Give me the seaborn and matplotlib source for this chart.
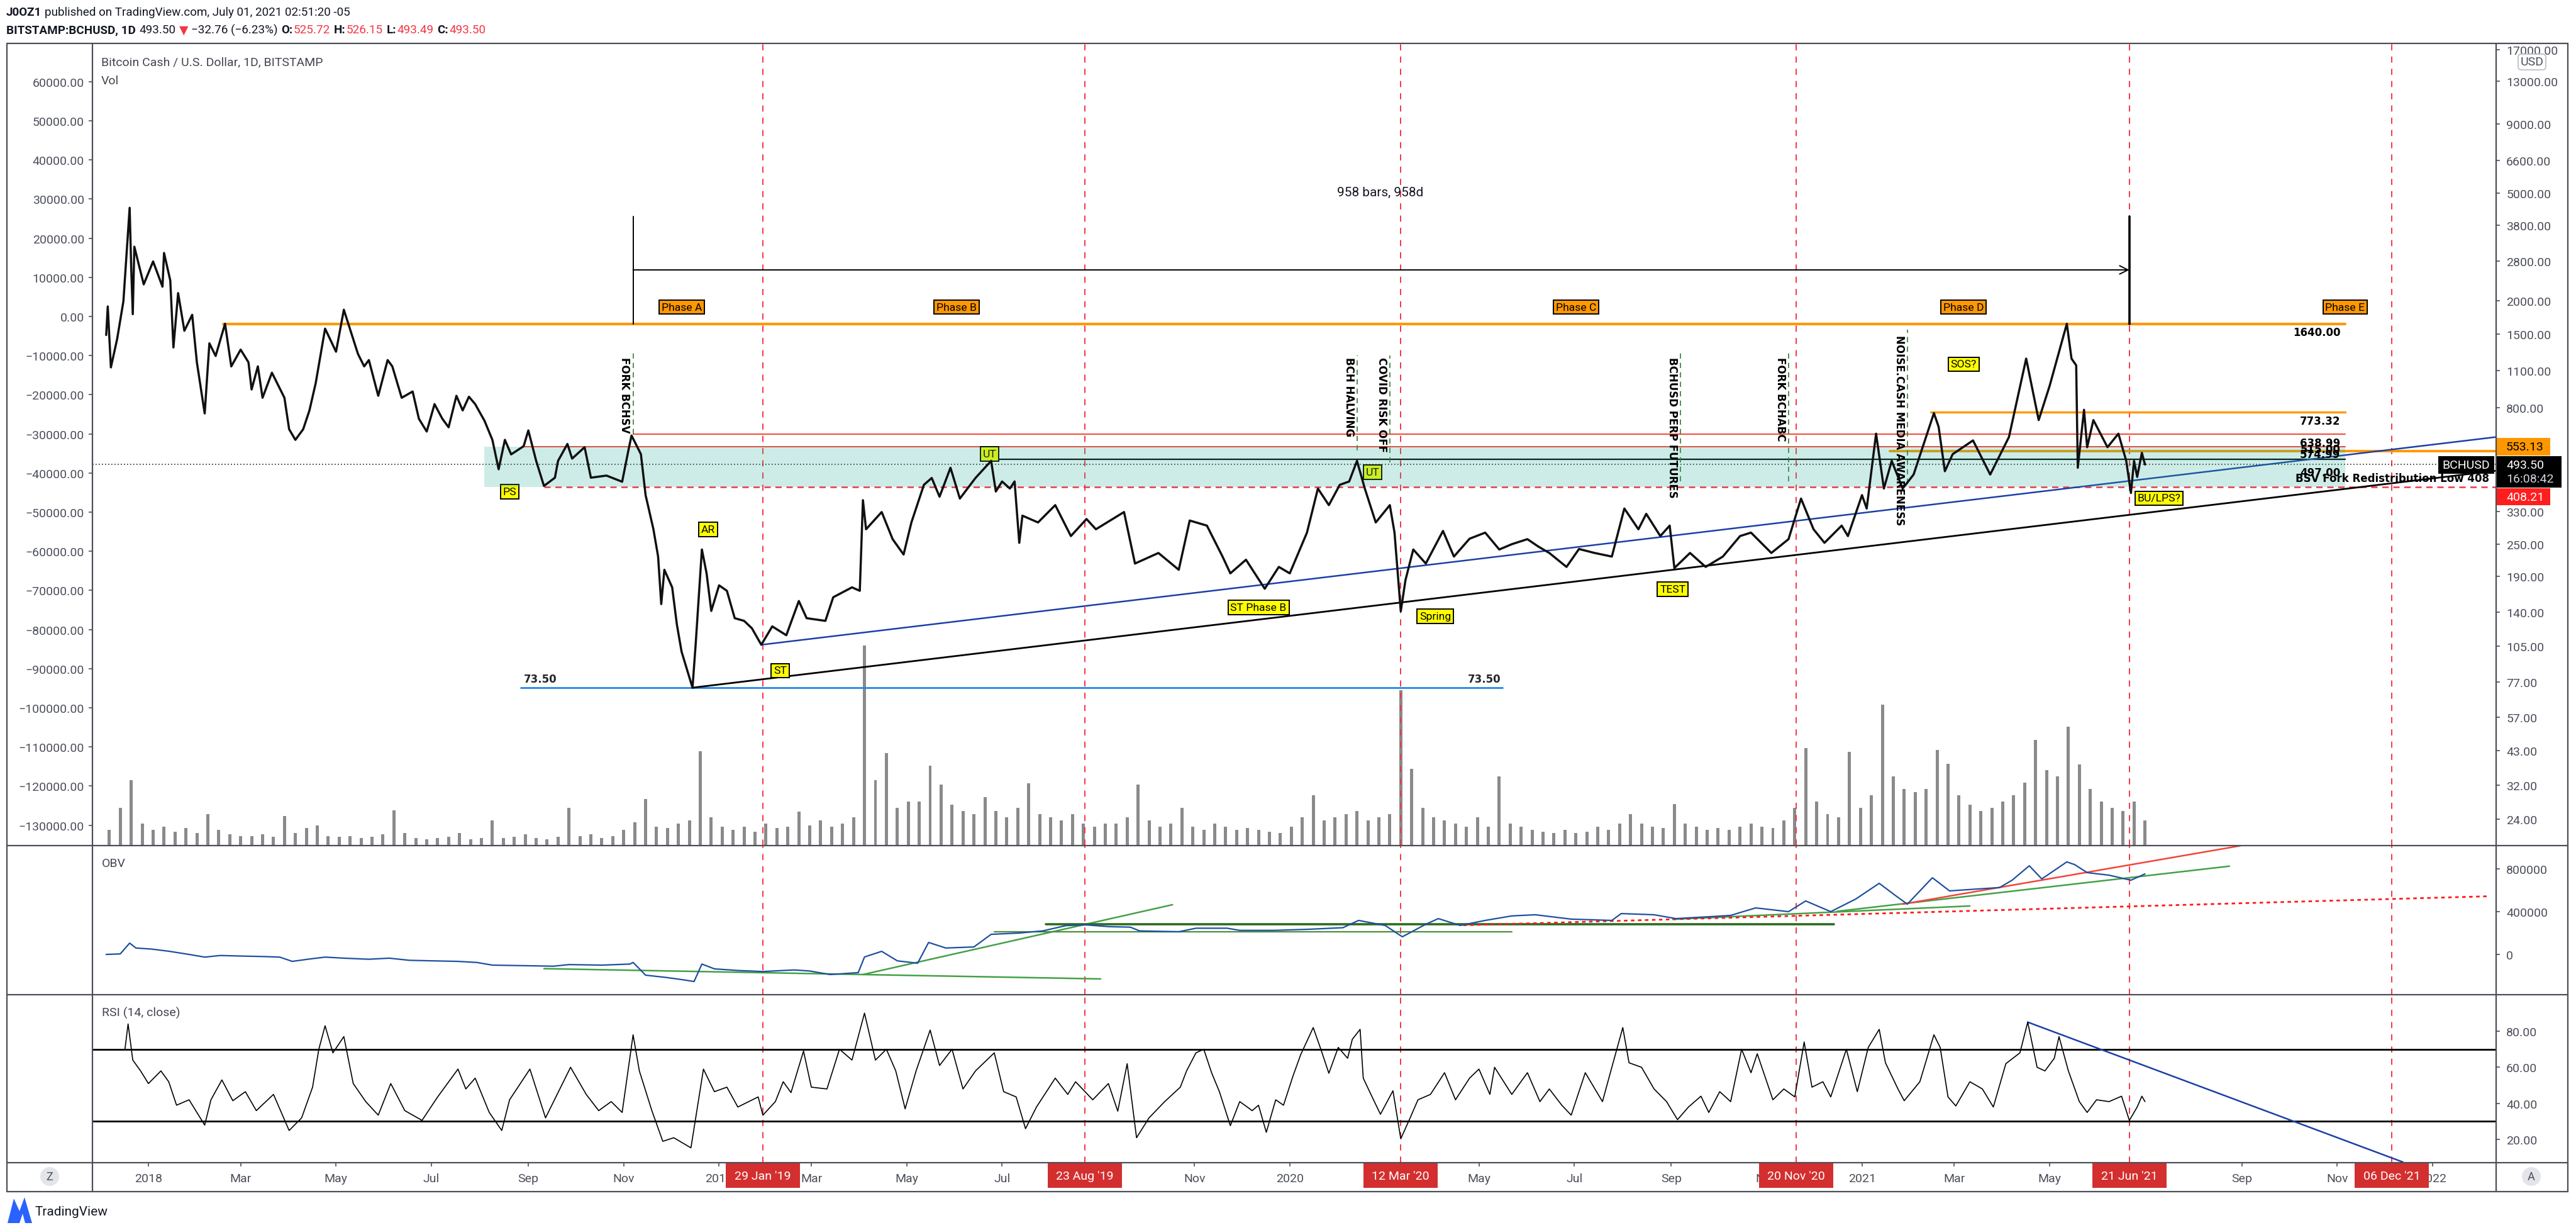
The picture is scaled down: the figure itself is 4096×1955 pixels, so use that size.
import numpy as np
import pandas as pd
import matplotlib
matplotlib.use("Agg")
import matplotlib.pyplot as plt
import matplotlib.dates as mdates
import matplotlib.transforms as mtrans
from matplotlib.ticker import FixedLocator, NullLocator, FuncFormatter
from matplotlib.patches import Rectangle, FancyBboxPatch, Circle, Polygon
import seaborn as sns

# ------------------------------------------------------------------ data
price_dates = [
 "2017-12-05","2017-12-06","2017-12-08","2017-12-12","2017-12-16","2017-12-20","2017-12-21","2017-12-22","2017-12-23","2017-12-29",
 "2018-01-04","2018-01-10","2018-01-11","2018-01-15","2018-01-17","2018-01-20","2018-01-24","2018-01-29","2018-02-01","2018-02-06",
 "2018-02-09","2018-02-13","2018-02-19","2018-02-23","2018-03-01","2018-03-06","2018-03-08","2018-03-12","2018-03-15","2018-03-21",
 "2018-03-25","2018-03-29","2018-04-01","2018-04-05","2018-04-10","2018-04-14","2018-04-18","2018-04-24","2018-05-01","2018-05-06",
 "2018-05-12","2018-05-15","2018-05-19","2018-05-22","2018-05-28","2018-06-03","2018-06-06","2018-06-12","2018-06-19","2018-06-23",
 "2018-06-28","2018-07-03","2018-07-08","2018-07-12","2018-07-17","2018-07-21","2018-07-25","2018-07-29","2018-08-04","2018-08-09",
 "2018-08-13","2018-08-17","2018-08-21","2018-08-29","2018-09-01","2018-09-06","2018-09-11","2018-09-18","2018-09-20","2018-09-26",
 "2018-09-29","2018-10-07","2018-10-11","2018-10-21","2018-10-31","2018-11-04","2018-11-06","2018-11-12","2018-11-15","2018-11-20",
 "2018-11-23","2018-11-25","2018-11-27","2018-12-02","2018-12-05","2018-12-08","2018-12-15","2018-12-17","2018-12-21","2018-12-24",
 "2018-12-27","2019-01-01","2019-01-06","2019-01-11","2019-01-17","2019-01-22","2019-01-28","2019-02-04","2019-02-13","2019-02-21",
 "2019-02-26","2019-03-10","2019-03-15","2019-03-27","2019-04-01","2019-04-03","2019-04-05","2019-04-15","2019-04-22","2019-04-29",
 "2019-05-04","2019-05-12","2019-05-17","2019-05-22","2019-05-29","2019-06-04","2019-06-14","2019-06-24","2019-06-27","2019-07-01",
 "2019-07-06","2019-07-09","2019-07-12","2019-07-14","2019-07-24","2019-08-04","2019-08-14","2019-08-24","2019-08-30","2019-09-17",
 "2019-09-24","2019-10-09","2019-10-22","2019-10-29","2019-11-09","2019-11-19","2019-11-24","2019-12-04","2019-12-16","2019-12-25",
 "2020-01-01","2020-01-12","2020-01-19","2020-01-26","2020-02-02","2020-02-08","2020-02-13","2020-02-18","2020-02-25","2020-03-05",
 "2020-03-08","2020-03-12","2020-03-15","2020-03-20","2020-03-28","2020-04-08","2020-04-15","2020-04-25","2020-05-05","2020-05-14",
 "2020-05-22","2020-06-01","2020-06-08","2020-06-15","2020-06-26","2020-07-04","2020-07-14","2020-07-25","2020-08-02","2020-08-11",
 "2020-08-16","2020-08-25","2020-08-31","2020-09-03","2020-09-13","2020-09-23","2020-10-04","2020-10-15","2020-10-22","2020-11-04",
 "2020-11-15","2020-11-23","2020-12-01","2020-12-08","2020-12-19","2020-12-23","2021-01-01","2021-01-04","2021-01-10","2021-01-15",
 "2021-01-20","2021-01-27","2021-02-03","2021-02-16","2021-02-19","2021-02-23","2021-02-28","2021-03-13","2021-03-24","2021-04-05",
 "2021-04-16","2021-04-24","2021-05-01","2021-05-12","2021-05-15","2021-05-18","2021-05-19","2021-05-23","2021-05-25","2021-05-29",
 "2021-06-07","2021-06-14","2021-06-19","2021-06-22","2021-06-24","2021-06-26","2021-06-29","2021-07-01"]
price_vals = [
 1490,1900,1130,1440,1985,4410,2640,1780,3165,2295,
 2790,2250,3000,2370,1340,2130,1545,1770,1180,763,
 1388,1246,1640,1140,1315,1180,936,1140,872,1080,
 970,872,667,609,667,783,988,1573,1292,1848,
 1439,1269,1140,1203,887,1203,1140,872,920,729,
 654,826,729,678,887,783,880,826,716,609,
 474,609,538,577,660,509,411,441,509,588,
 519,572,441,449,426,557,632,539,380,284,
 225,150,201,173,126,100,73.5,106,239,195,
 141.5,176,168,133,130,122,106,124,115,154,
 133,130,159,173,168,364,284,329,261,229,
 301,415,440,375,480,369,440,509,392,427,
 402,427,253,319,301,349,268,310,284,329,
 212,232,201,306,293,225,195,219,171,206,
 195,276,402,349,415,427,509,402,301,349,
 276,141,184,239,212,280,225,262,276,239,
 250,261,245,232,206,240,232,225,339,284,
 324,268,293,204,232,206,225,268,276,232,
 261,369,284,253,293,268,380,339,642,402,
 509,402,453,765,681,466,539,606,453,624,
 1218,721,965,1640,1218,1150,480,787,572,721,
 572,642,509,387,509,444,545,493.5]

# weekly volume (first week centred on 2017-12-07)
vol_first_week = "2017-12-07"
vol_vals = [
 25, 60, 104, 35, 25,                      # Dec 2017
 30, 22, 28, 20,                           # Jan 2018
 50, 25, 18, 15,                           # Feb
 15, 18, 14, 47, 20, 28, 32, 15, 14,       # Mar-Apr
 15, 12, 14, 18, 56, 20, 12, 10, 12, 14, 20, 10, 12,   # May-Jul
 40, 12, 14, 18, 12, 10, 14, 60, 15, 18, 12, 15, 25,   # Aug-Oct
 37, 74, 30, 28, 35,                       # Nov 2018
 40, 150, 45, 30,                          # Dec 2018
 25, 30, 22, 35, 28, 30, 54, 32, 40, 30, 35, 45,       # Jan-Mar 2019
 318, 104, 147, 60, 70,                    # Apr 2019
 70, 127, 97, 65, 55,                      # May
 50, 77, 55, 45, 60, 99, 50, 45, 40, 50, 35, 30, 35,   # Jun-Aug
 35, 45, 97, 40, 30, 35, 60, 30, 25, 35, 30, 25, 28,   # Sep-Nov
 25, 22, 20, 30, 45, 80, 40, 45, 50, 55, 40, 45, 50,   # Dec 2019-Feb 2020
 247, 122, 60, 45,                         # Mar 2020
 40, 35, 30, 45, 30, 110, 35, 30, 25, 22, 20, 25, 20, 22, 30, 25, 35,  # Apr-Jul
 50, 35, 30, 28, 66, 35, 30, 25, 28, 25, 30, 35, 30, 28,              # Aug-Oct
 40, 60, 155, 70, 50, 45, 149, 60,         # Nov-Dec 2020
 80, 224, 110, 90, 85,                     # Jan 2021
 90, 152, 130, 80,                         # Feb
 65, 55, 60, 70,                           # Mar
 80, 100, 168, 120, 110,                   # Apr
 189, 129, 90, 70,                         # May
 60, 55, 70, 40]                           # Jun

obv_dates = [
 "2017-12-05","2017-12-14","2017-12-20","2017-12-24","2018-01-03","2018-01-14","2018-01-27","2018-02-06","2018-02-16","2018-03-01",
 "2018-03-16","2018-03-26","2018-04-03","2018-04-13","2018-04-24","2018-05-06","2018-05-22","2018-06-04","2018-06-17","2018-07-02",
 "2018-07-18","2018-07-30","2018-08-09","2018-09-02","2018-09-17","2018-09-27","2018-10-18","2018-11-05","2018-11-07","2018-11-15",
 "2018-11-28","2018-12-08","2018-12-16","2018-12-21","2018-12-29","2019-01-13","2019-01-29","2019-02-18","2019-02-28","2019-03-13",
 "2019-03-31","2019-04-04","2019-04-15","2019-04-25","2019-05-08","2019-05-15","2019-05-26","2019-06-13","2019-06-24","2019-07-12",
 "2019-07-27","2019-08-11","2019-08-24","2019-09-07","2019-09-21","2019-09-27","2019-10-22","2019-11-02","2019-11-22","2019-11-30",
 "2019-12-22","2020-01-13","2020-02-04","2020-02-14","2020-03-02","2020-03-13","2020-03-28","2020-04-05","2020-04-19","2020-05-05",
 "2020-05-22","2020-06-06","2020-06-29","2020-07-25","2020-07-31","2020-08-21","2020-09-04","2020-09-28","2020-10-09","2020-10-25",
 "2020-11-15","2020-11-26","2020-12-12","2020-12-28","2021-01-12","2021-01-22","2021-01-30","2021-02-15","2021-02-26","2021-03-19",
 "2021-03-30","2021-04-07","2021-04-18","2021-04-26","2021-05-12","2021-05-17","2021-05-25","2021-06-08","2021-06-22","2021-07-01"]
obv_vals_k = [
 0, 5, 106, 60, 50, 30, 0, -25, -10, -15,
 -20, -25, -65, -45, -25, -35, -45, -35, -55, -60,
 -65, -75, -100, -106, -110, -95, -100, -90, -75, -194,
 -215, -235, -253, -90, -135, -150, -160, -145, -155, -188,
 -170, -24, 29, -60, -82, 112, 60, 70, 188, 200,
 220, 270, 276, 260, 255, 220, 212, 245, 245, 225,
 225, 235, 250, 318, 271, 165, 282, 335, 271, 318,
 360, 371, 330, 318, 382, 371, 335, 355, 365, 435,
 400, 500, 400, 518, 665, 555, 470, 717, 594, 615,
 625, 694, 829, 706, 865, 840, 765, 741, 694, 753]

rsi_dates = [
 "2017-12-17","2017-12-19","2017-12-22","2017-12-27","2018-01-01","2018-01-09","2018-01-14","2018-01-19","2018-01-27","2018-02-06",
 "2018-02-10","2018-02-17","2018-02-24","2018-03-04","2018-03-11","2018-03-22","2018-04-01","2018-04-09","2018-04-16","2018-04-20",
 "2018-04-24","2018-04-29","2018-05-06","2018-05-12","2018-05-20","2018-05-28","2018-06-05","2018-06-14","2018-06-25","2018-07-05",
 "2018-07-18","2018-07-23","2018-07-29","2018-08-07","2018-08-15","2018-08-20","2018-09-02","2018-09-12","2018-09-28","2018-10-08",
 "2018-10-16","2018-10-24","2018-10-31","2018-11-07","2018-11-11","2018-11-19","2018-11-26","2018-12-03","2018-12-14","2018-12-22",
 "2018-12-29","2019-01-06","2019-01-13","2019-01-26","2019-01-29","2019-02-06","2019-02-11","2019-02-16","2019-02-24","2019-03-01",
 "2019-03-11","2019-03-19","2019-03-27","2019-04-04","2019-04-11","2019-04-18","2019-04-24","2019-04-30","2019-05-07","2019-05-16",
 "2019-05-22","2019-05-30","2019-06-06","2019-06-14","2019-06-26","2019-07-02","2019-07-10","2019-07-16","2019-07-23","2019-08-04",
 "2019-08-12","2019-08-17","2019-08-28","2019-09-07","2019-09-13","2019-09-19","2019-09-25","2019-10-03","2019-10-13","2019-10-23",
 "2019-10-27","2019-11-02","2019-11-07","2019-11-12","2019-11-17","2019-11-24","2019-11-30","2019-12-08","2019-12-12","2019-12-17",
 "2019-12-23","2019-12-28","2020-01-03","2020-01-08","2020-01-11","2020-01-16","2020-01-21","2020-01-26","2020-02-01","2020-02-07",
 "2020-02-10","2020-02-15","2020-02-17","2020-02-23","2020-02-28","2020-03-07","2020-03-12","2020-03-18","2020-03-23","2020-03-31",
 "2020-04-09","2020-04-16","2020-04-25","2020-05-01","2020-05-08","2020-05-11","2020-05-22","2020-06-01","2020-06-09","2020-06-15",
 "2020-06-23","2020-06-29","2020-07-08","2020-07-19","2020-07-25","2020-08-01","2020-08-05","2020-08-13","2020-08-21","2020-08-29",
 "2020-09-05","2020-09-12","2020-09-20","2020-09-25","2020-10-02","2020-10-09","2020-10-16","2020-10-22","2020-10-26","2020-11-05",
 "2020-11-12","2020-11-19","2020-11-25","2020-11-30","2020-12-07","2020-12-12","2020-12-22","2020-12-29","2021-01-05","2021-01-12",
 "2021-01-16","2021-01-24","2021-01-28","2021-02-07","2021-02-16","2021-02-20","2021-02-25","2021-03-02","2021-03-11","2021-03-19",
 "2021-03-26","2021-04-03","2021-04-12","2021-04-17","2021-04-23","2021-04-28","2021-05-04","2021-05-07","2021-05-13","2021-05-20",
 "2021-05-25","2021-05-31","2021-06-08","2021-06-16","2021-06-21","2021-06-26","2021-06-29","2021-07-01"]
rsi_vals = [
 70, 84, 64, 58, 51, 58, 52, 39, 42, 28,
 42, 53, 41.5, 46.5, 36, 45, 25, 32, 49, 70,
 83, 68, 77, 51, 41, 33.5, 51, 36, 30.6, 43.6,
 59, 48, 54, 35, 25, 42, 59, 32, 60, 45,
 36, 41, 35, 78, 58, 36, 19, 21, 15.4, 59,
 46.5, 49, 38, 43.6, 33.5, 41, 52, 46, 69, 49,
 48, 70, 64, 90, 64, 70, 58, 37, 58, 80.6,
 61, 70, 48, 58, 68, 46.5, 43.6, 26, 38, 54,
 45, 52, 42, 51, 35.7, 62, 21, 32, 41, 49,
 58, 68, 70, 57, 46.5, 27.7, 41, 36, 39, 24,
 42, 39, 55, 67, 72.6, 82, 69.7, 56.7, 71, 65,
 75.5, 81, 54, 43, 34, 47, 20.4, 32, 42, 45,
 57, 42, 54, 59, 45, 60, 45, 57, 41, 48,
 39, 33.5, 57, 41, 60, 82, 62.5, 60, 48, 41,
 31, 38, 44, 35, 46.5, 41, 70, 57, 67.5, 42,
 48, 43.6, 74, 49, 52, 43.6, 70, 46.5, 71, 81,
 62.5, 48, 41.5, 52, 78, 71, 43.6, 38.6, 52, 48,
 38, 62, 68, 85, 60, 58, 65, 77, 58, 41,
 35, 42, 41, 44, 30.6, 38, 44, 41]

# axis tick values
right_ticks = [17000, 13000, 9000, 6600, 5000, 3800, 2800, 2000, 1500, 1100, 800, 600,
               330, 250, 190, 140, 105, 77, 57, 43, 32, 24]
left_ticks = list(range(-130000, 60001, 10000))
obv_ticks = [0, 400000, 800000]
rsi_ticks = [20, 40, 60, 80]
# time-axis labels (those hidden under the date tags are left out)
time_ticks = ["2018-01-01", "2018-03-01", "2018-05-01", "2018-07-01", "2018-09-01", "2018-11-01",
              "2019-01-01", "2019-03-01", "2019-05-01", "2019-07-01", "2019-11-01",
              "2020-01-01", "2020-05-01", "2020-07-01", "2020-09-01", "2020-11-01",
              "2021-01-01", "2021-03-01", "2021-05-01", "2021-09-01", "2021-11-01", "2022-01-01"]
time_labels = ["2018", "Mar", "May", "Jul", "Sep", "Nov",
               "2019", "Mar", "May", "Jul", "Nov",
               "2020", "May", "Jul", "Sep", "Nov",
               "2021", "Mar", "May", "Sep", "Nov", "2022"]

# events (red dashed verticals with date tags)
event_dates = ["2019-01-29", "2019-08-23", "2020-03-12", "2020-11-20", "2021-06-21", "2021-12-06"]
event_labels = ["29 Jan '19", "23 Aug '19", "12 Mar '20", "20 Nov '20", "21 Jun '21", "06 Dec '21"]

# green annotated verticals: name, date, low price, high price, text-top price
note_names = ["FORK BCHSV", "BCH HALVING", "COVID RISK OFF", "BCHUSD PERP FUTURES", "FORK BCHABC",
              "NOISE.CASH MEDIA AWARENESS"]
note_dates = ["2018-11-07", "2020-02-13", "2020-03-05", "2020-09-07", "2020-11-15", "2021-01-30"]
note_low = [640, 555, 503, 427, 427, 418]
note_high = [1306, 1254, 1254, 1304, 1304, 1558]
note_text_top = [1240, 1240, 1240, 1240, 1240, 1492]

# Wyckoff labels
wy_text = ["PS", "AR", "UT", "ST", "ST Phase B", "UT", "Spring", "TEST", "SOS?", "BU/LPS?"]
wy_dates = ["2018-08-20", "2018-12-25", "2019-06-23", "2019-02-09", "2019-12-12", "2020-02-23",
            "2020-04-03", "2020-09-02", "2021-03-07", "2021-07-10"]
wy_price = [392, 284, 541, 85, 146, 463, 135, 170, 1161, 370]

phase_text = ["Phase A", "Phase B", "Phase C", "Phase D", "Phase E"]
phase_dates = ["2018-12-08", "2019-06-02", "2020-07-02", "2021-03-07", "2021-11-06"]
phase_price = 1890

# x range of the chart
x_start, x_end = "2017-11-26 05:00", "2022-02-10 14:00"
level_end = "2021-11-06"

# ------------------------------------------------------------------ style
sns.set_theme(style="white")
plt.rcParams["font.family"] = ["Roboto", "DejaVu Sans"]
AX_COL = "#4c4f5a"
FRAME = "#4b4e58"
RED = "#f23645"
ORANGE = "#ff9800"

W, H, DPI = 4096, 1956, 200
fig = plt.figure(figsize=(W / DPI, H / DPI), dpi=DPI)
fig.patch.set_facecolor("white")

L, R = 147, 3969
T_MAIN, B_MAIN, B_OBV, B_RSI = 70, 1345, 1582, 1849


def rect(top, bottom):
    return [L / W, 1 - bottom / H, (R - L) / W, (bottom - top) / H]


ax = fig.add_axes(rect(T_MAIN, B_MAIN))
ax_obv = fig.add_axes(rect(B_MAIN, B_OBV), sharex=ax)
ax_rsi = fig.add_axes(rect(B_OBV, B_RSI), sharex=ax)
ax_vol = ax.twinx()
ax_left = ax.twinx()
for a in (ax, ax_vol, ax_left, ax_obv, ax_rsi):
    a.patch.set_visible(False)
    for s in a.spines.values():
        s.set_visible(False)
    a.grid(False)
ax_vol.set_zorder(1)
ax_left.set_zorder(2)
ax.set_zorder(3)


def D(s):
    return mdates.date2num(pd.Timestamp(s))


# ------------------------------------------------------------------ main pane
ax.set_yscale("log")
sns.lineplot(x=pd.to_datetime(price_dates), y=price_vals, ax=ax, color="#101010",
             linewidth=1.25, estimator=None, sort=False, zorder=6)

vdates = pd.date_range(vol_first_week, periods=len(vol_vals), freq="7D")
ax_vol.bar(vdates, vol_vals, width=2.0, color="#8a8a8a", linewidth=0, zorder=1)
ax_vol.set_ylim(0, 1275)
ax_vol.axis("off")

# horizontal levels
dash = (0, (4, 3))
ax.plot([D("2018-02-18"), D(level_end)], [1640, 1640], color=ORANGE, lw=1.5, zorder=2)
ax.plot([D("2021-02-14"), D(level_end)], [773.32, 773.32], color=ORANGE, lw=1.2, zorder=2)
ax.plot([D("2018-11-07"), D(level_end)], [638.99, 638.99], color="#f44336", lw=0.7, zorder=2)
ax.plot([D("2018-08-28"), D(level_end)], [574.99, 574.99], color="#f44336", lw=0.7, zorder=2)
ax.plot([D("2021-01-19"), D(x_end)], [553.13, 553.13], color=ORANGE, lw=1.4, zorder=2)
ax.plot([D("2019-06-27"), D(level_end)], [515.0, 515.0], color="black", lw=0.8, zorder=2)
ax.plot([D("2018-09-11"), D(x_end)], [408.21, 408.21], color=RED, lw=0.9, ls=dash, zorder=2)
ax.plot([D("2018-08-27"), D("2020-05-16")], [73.5, 73.5], color="#1e88e5", lw=1.0, zorder=2)
ax.axhline(493.5, color="#222222", lw=0.6, ls=(0, (1, 2)), zorder=2)

# teal range box
ax.add_patch(Rectangle((D("2018-08-04"), 408.21), D(level_end) - D("2018-08-04"), 574.99 - 408.21,
                       facecolor="#22ab94", alpha=0.22, edgecolor="none", zorder=5))

# trend lines
ax.plot([D("2018-12-15"), D(x_end)], [73.5, 468], color="black", lw=1.0, zorder=3)
ax.plot([D("2019-01-28"), D(x_end)], [106, 624], color="#1b3fa6", lw=0.9, zorder=3)

# date range measurement
ax.plot([D("2018-11-07"), D("2018-11-07")], [1640, 4095], color="black", lw=0.7, zorder=3)
ax.plot([D("2021-06-21"), D("2021-06-21")], [1640, 4095], color="black", lw=1.3, zorder=3)
ax.annotate("", xy=(D("2021-06-21"), 2596), xytext=(D("2018-11-07"), 2596),
            arrowprops=dict(arrowstyle="->", color="black", lw=0.7, shrinkA=0, shrinkB=0), zorder=3)
ax.text(D("2020-02-28"), 5047, "958 bars, 958d", ha="center", va="center", fontsize=7.5,
        color="#131722", zorder=7)

# event verticals
for a in (ax, ax_obv, ax_rsi):
    for d in event_dates:
        a.axvline(D(d), color=RED, lw=0.7, ls=(0, (5, 5)), zorder=1.5)

# green annotated verticals
off = mtrans.offset_copy(ax.transData, fig=fig, x=-1.5, y=0, units="points")
for n, d, lo, hi, tt in zip(note_names, note_dates, note_low, note_high, note_text_top):
    ax.plot([D(d), D(d)], [lo, hi], color="#2e7d32", lw=0.6, ls=(0, (5, 4)), zorder=3)
    ax.text(D(d), tt, n, rotation=270, ha="right", va="top", fontsize=6, fontweight="bold",
            family="DejaVu Sans", color="black", transform=off, zorder=7)

# wyckoff labels
for t, d, p in zip(wy_text, wy_dates, wy_price):
    ax.text(D(d), p, t, ha="center", va="center", fontsize=6.3, color="black", zorder=4,
            bbox=dict(boxstyle="square,pad=0.22", fc="#ffff00", ec="black", lw=0.7))
for t, d in zip(phase_text, phase_dates):
    ax.text(D(d), phase_price, t, ha="center", va="center", fontsize=6.3, color="black", zorder=7,
            bbox=dict(boxstyle="square,pad=0.22", fc=ORANGE, ec="black", lw=0.7))

# level text labels (stacked as in the original, they partly overlap there too)
lvl_kw = dict(ha="right", va="center", fontsize=6, fontweight="bold", family="DejaVu Sans",
              color="black", zorder=7)
ax.text(D("2021-11-03"), 1527, "1640.00", **lvl_kw)
ax.text(D("2021-11-03"), 716, "773.32", **lvl_kw)
ax.text(D("2021-11-03"), 593, "638.99", **lvl_kw)
ax.text(D("2021-11-03"), 562, "515.00", **lvl_kw)
ax.text(D("2021-11-03"), 538.6, "574.99", **lvl_kw)
ax.text(D("2021-11-03"), 461, "497.00", **lvl_kw)
ax.text(D("2022-02-06"), 439, "BSV Fork Redistribution Low 408", **lvl_kw)
ax.text(D("2018-08-29"), 79.3, "73.50", ha="left", va="center", fontsize=6, fontweight="bold",
        family="DejaVu Sans", zorder=7)
ax.text(D("2020-05-15"), 79.3, "73.50", ha="right", va="center", fontsize=6, fontweight="bold",
        family="DejaVu Sans", zorder=7)

ax.set_xlim(D(x_start), D(x_end))
ax.set_ylim(19.11, 17930)
ax.set_xlabel("")
ax.set_ylabel("")
ax.yaxis.tick_right()
ax.yaxis.set_major_locator(FixedLocator(right_ticks))
ax.yaxis.set_minor_locator(NullLocator())
ax.yaxis.set_major_formatter(FuncFormatter(lambda v, p: f"{v:.2f}"))
ax.tick_params(axis="y", which="major", direction="out", length=2.2, width=0.6, pad=3.6,
               labelsize=7, colors=AX_COL)
ax.tick_params(axis="y", which="minor", length=0)
ax.tick_params(axis="x", which="both", bottom=False, labelbottom=False)

ax_left.yaxis.tick_left()
ax_left.set_ylim(-135209, 69775)
ax_left.yaxis.set_major_locator(FixedLocator(left_ticks))
ax_left.yaxis.set_major_formatter(FuncFormatter(lambda v, p: f"{v:.2f}".replace("-", "\u2212")))
ax_left.tick_params(axis="y", direction="out", length=2.2, width=0.6, pad=2.5, labelsize=7,
                    colors=AX_COL)

# ------------------------------------------------------------------ OBV pane
sns.lineplot(x=pd.to_datetime(obv_dates), y=np.array(obv_vals_k) * 1000, ax=ax_obv,
             color="#1d4f9e", linewidth=0.8, estimator=None, sort=False, zorder=5)
obv_lines = [
    (("2018-09-11", -133000), ("2019-09-02", -229000), "#43a047", 0.9, "-"),
    (("2019-04-03", -188000), ("2019-10-18", 465000), "#43a047", 0.9, "-"),
    (("2019-07-29", 282000), ("2020-12-14", 282000), "#2e6b1f", 1.3, "-"),
    (("2019-06-26", 212000), ("2020-05-22", 212000), "#4a8f3a", 0.8, "-"),
    (("2020-09-02", 329000), ("2021-03-11", 453000), "#43a047", 0.9, "-"),
    (("2020-12-16", 403000), ("2021-08-24", 825000), "#43a047", 0.9, "-"),
    (("2021-01-27", 470000), ("2021-08-31", 1016000), "#f44336", 0.9, "-"),
    (("2020-04-21", 273000), ("2022-02-06", 544000), "#ff1a1a", 1.0, (0, (2, 2))),
]
for (d0, v0), (d1, v1), c, lw, ls in obv_lines:
    ax_obv.plot([D(d0), D(d1)], [v0, v1], color=c, lw=lw, ls=ls, zorder=4)
ax_obv.set_ylim(-376470, 1017647)
ax_obv.set_xlabel("")
ax_obv.set_ylabel("")
ax_obv.yaxis.tick_right()
ax_obv.yaxis.set_major_locator(FixedLocator(obv_ticks))
ax_obv.yaxis.set_major_formatter(FuncFormatter(lambda v, p: f"{int(v)}"))
ax_obv.tick_params(axis="y", direction="out", length=2.2, width=0.6, pad=3.6, labelsize=7,
                   colors=AX_COL)
ax_obv.tick_params(axis="x", which="both", bottom=False, labelbottom=False)

# ------------------------------------------------------------------ RSI pane
sns.lineplot(x=pd.to_datetime(rsi_dates), y=rsi_vals, ax=ax_rsi, color="black",
             linewidth=0.6, estimator=None, sort=False, zorder=5)
ax_rsi.axhline(70, color="black", lw=1.0, zorder=3)
ax_rsi.axhline(30, color="black", lw=1.0, zorder=3)
ax_rsi.plot([D("2021-04-17"), D("2021-12-13")], [85, 7.5], color="#1b3fa6", lw=0.9, zorder=4)
ax_rsi.set_ylim(7.18, 100.2)
ax_rsi.set_xlabel("")
ax_rsi.set_ylabel("")
ax_rsi.yaxis.tick_right()
ax_rsi.yaxis.set_major_locator(FixedLocator(rsi_ticks))
ax_rsi.yaxis.set_major_formatter(FuncFormatter(lambda v, p: f"{v:.2f}"))
ax_rsi.tick_params(axis="y", direction="out", length=2.2, width=0.6, pad=3.6, labelsize=7,
                   colors=AX_COL)
ax_rsi.set_xticks([D(d) for d in time_ticks])
ax_rsi.set_xticklabels(time_labels)
ax_rsi.tick_params(axis="x", direction="out", length=2.2, width=0.6, pad=3.6, labelsize=7,
                   colors=AX_COL, bottom=True, labelbottom=True)
ax.set_xlim(D(x_start), D(x_end))

# ------------------------------------------------------------------ overlay (frame, header, tags)
ov = fig.add_axes([0, 0, 1, 1])
ov.set_xlim(0, W)
ov.set_ylim(H, 0)
ov.axis("off")
ov.set_zorder(10)

for y in (70, 1345, 1582, 1849, 1895):
    ov.plot([11, 4083], [y, y], color=FRAME, lw=0.8)
for x in (11, 147, 3969, 4083):
    ov.plot([x, x], [70, 1895], color=FRAME, lw=0.8)

renderer = fig.canvas.get_renderer()


def run_text(x, y, parts, size=6.8):
    for s, color, weight, fam, gap in parts:
        t = ov.text(x, y, s, color=color, fontsize=size, fontweight=weight, family=fam,
                    ha="left", va="center")
        x += t.get_window_extent(renderer).width + gap


INK = "#131722"
run_text(10, 20, [("J0OZ1", INK, "bold", "Roboto", 5),
                  ("published on TradingView.com, July 01, 2021 02:51:20 -05", INK, "normal", "Roboto", 0)])
run_text(10, 48, [("BITSTAMP:BCHUSD, 1D", INK, "bold", "Roboto", 6),
                  ("493.50", INK, "normal", "Roboto", 5),
                  ("\u25bc", RED, "normal", "DejaVu Sans", 5),
                  ("\u221232.76 (\u22126.23%)", INK, "normal", "Roboto", 6),
                  ("O:", INK, "bold", "Roboto", 1), ("525.72", RED, "normal", "Roboto", 6),
                  ("H:", INK, "bold", "Roboto", 1), ("526.15", RED, "normal", "Roboto", 6),
                  ("L:", INK, "bold", "Roboto", 1), ("493.49", RED, "normal", "Roboto", 6),
                  ("C:", INK, "bold", "Roboto", 1), ("493.50", RED, "normal", "Roboto", 0)])

title_kw = dict(ha="left", va="center", fontsize=7, color="#434651")
ov.text(161, 99, "Bitcoin Cash / U.S. Dollar, 1D, BITSTAMP", **title_kw)
ov.text(161, 129, "Vol", **title_kw)
ov.text(162, 1373, "OBV", **title_kw)
ov.text(162, 1610, "RSI (14, close)", **title_kw)

# right-scale tags
ov.add_patch(FancyBboxPatch((4004, 87), 44, 25, boxstyle="round,pad=0,rounding_size=5",
                            fc="white", ec="#b8bbc4", lw=0.6))
ov.text(4026, 99.5, "USD", ha="center", va="center", fontsize=7, color=AX_COL)
ov.add_patch(Rectangle((3969, 697), 86, 28, fc=ORANGE, ec="none"))
ov.text(3985, 711, "553.13", ha="left", va="center", fontsize=7, color="black")
ov.add_patch(Rectangle((3877, 726), 89, 28, fc="black", ec="none"))
ov.text(3921, 740, "BCHUSD", ha="center", va="center", fontsize=7, color="white")
ov.add_patch(Rectangle((3969, 726), 104, 50, fc="black", ec="none"))
ov.text(3985, 740, "493.50", ha="left", va="center", fontsize=7, color="white")
ov.text(3985, 762, "16:08:42", ha="left", va="center", fontsize=7, color="#d1d4dc")
ov.add_patch(Rectangle((3969, 777), 86, 27, fc="#ff1e1e", ec="none"))
ov.text(3985, 790.5, "408.21", ha="left", va="center", fontsize=7, color="white")

# date tags on time axis
for d, lab in zip(event_dates, event_labels):
    px = ax.transData.transform((D(d), 100))[0]
    ov.add_patch(Rectangle((px - 59, 1849), 118, 40, fc="#d32f2f", ec="none"))
    ov.text(px, 1870, lab, ha="center", va="center", fontsize=7, color="white")

for cx, letter in ((79, "Z"), (4025, "A")):
    ov.add_patch(Circle((cx, 1871), 15, fc="#e3e5eb", ec="none"))
    ov.text(cx, 1871, letter, ha="center", va="center", fontsize=6.5, color=AX_COL)

# TradingView logo
ov.add_patch(Polygon([(12, 1945), (22, 1906), (31, 1926), (39, 1904), (51, 1945), (40, 1945),
                      (36, 1930), (31, 1945), (22, 1945)], closed=True, fc="#2962ff", ec="none"))
ov.text(56, 1927, "TradingView", ha="left", va="center", fontsize=7.5, color=INK)

fig.savefig("out.png", dpi=DPI)
